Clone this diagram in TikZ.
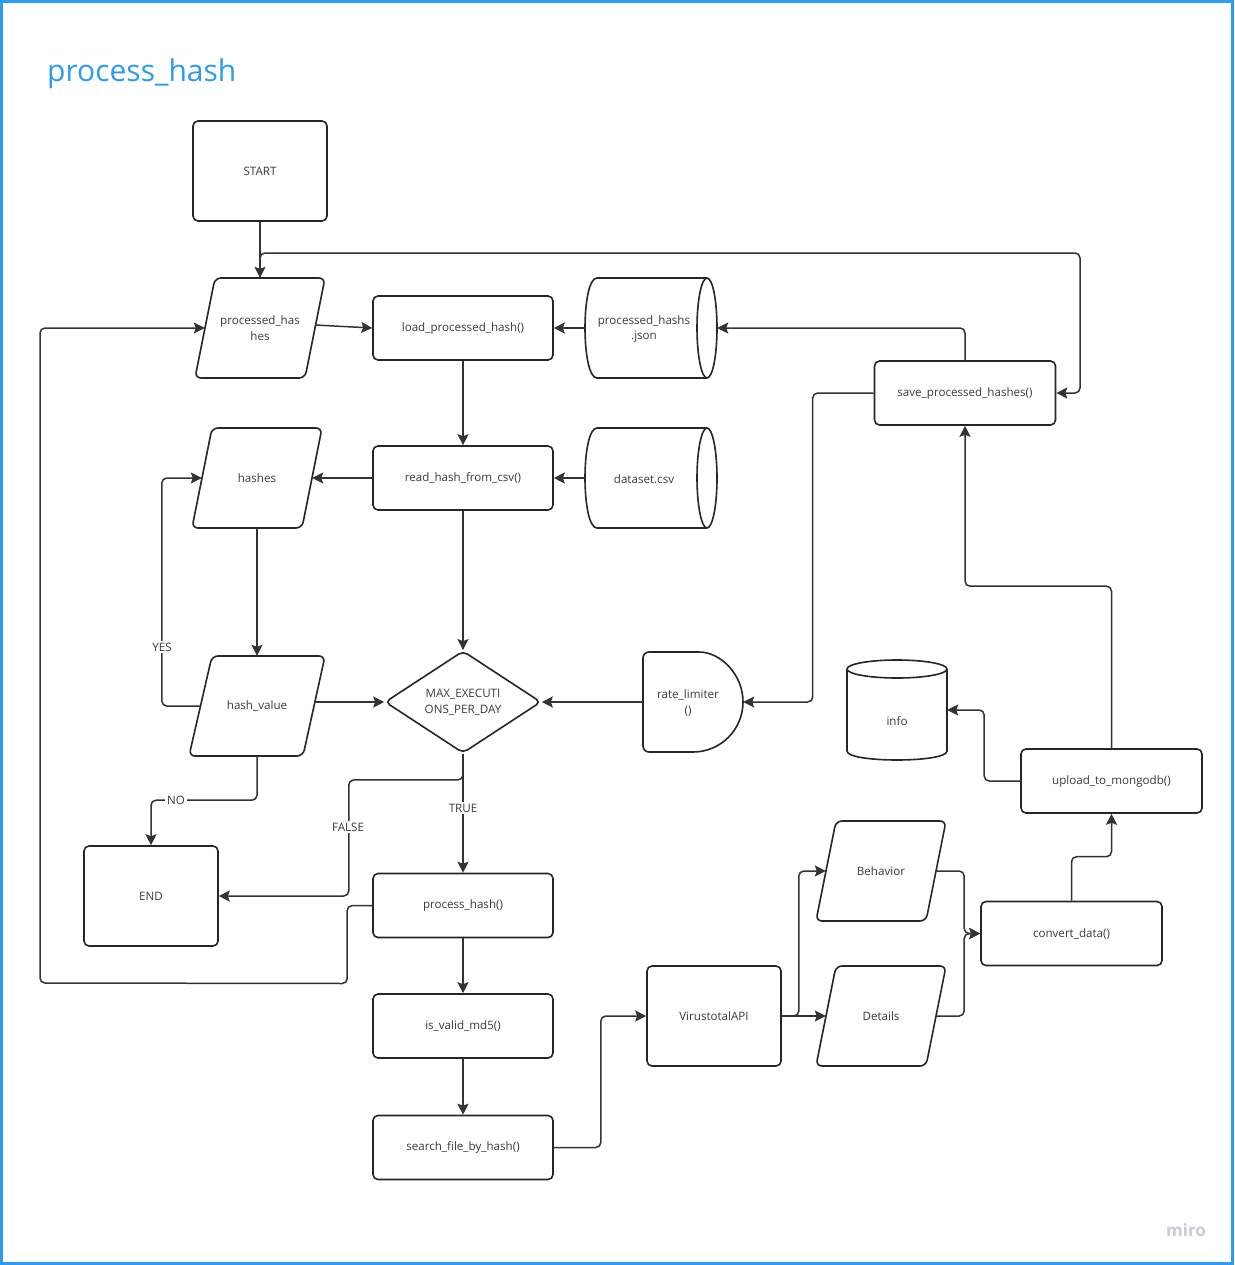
\documentclass[tikz,border=0pt]{standalone}
\usepackage{fontspec}
\setmainfont{Open Sans}
\usetikzlibrary{arrows.meta,calc,shapes.geometric}
\definecolor{miroblue}{HTML}{2D9BF0}
\definecolor{ink}{HTML}{262626}
\definecolor{wire}{HTML}{333333}
\definecolor{txtc}{HTML}{3A3A3A}
\definecolor{logo}{HTML}{C9CBD4}
\newcommand\plgram[4]{%
  \draw[shp, rounded corners=6pt] ($(#2,#3)+(-45,-50)$) -- ($(#2,#3)+(65,-50)$) -- ($(#2,#3)+(45,50)$) -- ($(#2,#3)+(-65,50)$) -- cycle;
  \node[ghost] (#1) at (#2,#3) {#4};}
\begin{document}
\begin{tikzpicture}[x=1pt,y=-1pt,
  base/.style={font=\fontsize{11.6}{15.5}\selectfont, text=txtc, align=center, inner sep=0pt},
  shp/.style={draw=ink, line width=1.6pt, fill=white, line join=round},
  rbox/.style={base, draw=ink, line width=1.6pt, fill=white, rounded corners=5pt, minimum width=180pt, minimum height=64pt},
  bigbox/.style={rbox, minimum width=134pt, minimum height=100pt},
  ghost/.style={base, minimum width=#1, minimum height=100pt},
  ghost/.default=110pt,
  conn/.style={draw=wire, line width=1.5pt, rounded corners=5pt, -{Stealth[length=11pt,width=11pt,inset=2pt]}},
  lbl/.style={base, fill=white, inner sep=2pt}]
\useasboundingbox (0,0) rectangle (1234,1265);
\fill[white] (0,0) rectangle (1234,1265);
\draw[miroblue, line width=3pt] (1.5,1.5) rectangle (1232.5,1263.5);
\node[anchor=base west, font=\fontsize{30}{36}\selectfont, text=miroblue, inner sep=0pt] (title) at (47,82) {process\_hash};
\node[anchor=base, font=\fontsize{17}{20}\selectfont\bfseries, text=logo, inner sep=0pt] (miro) at (1186,1236) {miro};

% nodes
\node[bigbox] (start) at (260,171) {START};
\plgram{ph}{260}{328}{processed\_has\\hes}
\node[rbox] (lph) at (463,328) {load\_processed\_hash()};
\draw[shp] (707,278) -- (597,278) .. controls (581,278) and (581,378) .. (597,378) -- (707,378);
\draw[shp] (707,328) ellipse [x radius=10, y radius=50];
\node[ghost=132pt] (json) at (651,328) {};
\node[base] (jsont) at (644,329) {processed\_hashs\\.json};
\node[rbox, minimum width=181pt] (save) at (965,393) {save\_processed\_hashes()};
\plgram{hs}{257}{478}{hashes}
\node[rbox] (rh) at (463,478) {read\_hash\_from\_csv()};
\draw[shp] (707,428) -- (597,428) .. controls (581,428) and (581,528) .. (597,528) -- (707,528);
\draw[shp] (707,478) ellipse [x radius=10, y radius=50];
\node[ghost=132pt] (csv) at (651,478) {};
\node[base] (csvt) at (644,479) {dataset.csv};
\node[base, diamond, draw=ink, line width=1.6pt, fill=white, rounded corners=5pt, minimum width=156pt, minimum height=99pt] (mx) at (463,702) {MAX\_EXECUTI\\ONS\_PER\_DAY};
\draw[shp, rounded corners=6pt] (212,656) -- (325,656) -- (303,756) -- (189,756) -- cycle;
\node[ghost=114pt] (hv) at (257,706) {hash\_value};
\draw[shp, rounded corners=6pt] (693,752) -- (643,752) -- (643,652) -- (693,652) [sharp corners] .. controls (720.6,652) and (743,674.4) .. (743,702) .. controls (743,729.6) and (720.6,752) .. (693,752) -- cycle;
\node[ghost=100pt] (rl) at (693,702) {};
\node[base] (rlt) at (688,703) {rate\_limiter\\()};
\draw[shp] (847,669) -- (847,751) .. controls (847,763) and (947,763) .. (947,751) -- (947,669);
\draw[shp] (897,669) ellipse [x radius=50, y radius=9];
\node[ghost=100pt] (info) at (897,710) {};
\node[base] (infot) at (897,721) {info};
\node[rbox, minimum width=181pt] (up) at (1111.5,781) {upload\_to\_mongodb()};
\node[bigbox] (fin) at (151,896) {END};
\node[rbox] (phf) at (463,905.5) {process\_hash()};
\plgram{bh}{881}{871}{Behavior}
\node[rbox, minimum width=181pt] (cd) at (1071.5,933.5) {convert\_data()};
\node[bigbox] (vt) at (714,1016) {VirustotalAPI};
\plgram{dt}{881}{1016}{Details}
\node[rbox] (md5) at (463,1026) {is\_valid\_md5()};
\node[rbox] (sf) at (463,1147.5) {search\_file\_by\_hash()};

% connectors
\coordinate (c1) at (1080,253);
\draw[conn] (start.south) -- (ph.north);
\draw[conn] (ph.north) |- (c1) |- (save.east);
\draw[conn] ($(ph.east)+(0,-3)$) -- (lph.west);
\draw[conn] (json.west) -- (lph.east);
\draw[conn] (save.north) |- (json.east);
\draw[conn] (lph.south) -- (rh.north);
\draw[conn] (csv.west) -- (rh.east);
\draw[conn] (rh.west) -- (hs.east);
\draw[conn] (hs.south) -- (hv.north);
\draw[conn] (rh.south) -- (mx.north);
\draw[conn] (hv.west) -- ++(-38,0) |- (hs.west);
\draw[conn] (hv.east |- mx.west) -- (mx.west);
\draw[conn] (rl.west) -- (mx.east);
\draw[conn] (save.west) -- ++(-61,0) |- (rl.east);
\draw[conn] (hv.south) -- ++(0,44) -| (fin.north);
\draw[conn] (mx.south) -- ++(0,26) -| ($(fin.east)+(130,0)$) -- (fin.east);
\draw[conn] (mx.south) -- (phf.north);
\draw[conn] (phf.west) -- ++(-25,0) -- ++(0,78) -- (40,983) |- (ph.west);
\draw[conn] (phf.south) -- (md5.north);
\draw[conn] (md5.south) -- (sf.north);
\draw[conn] (sf.east) -- ++(47,0) |- (vt.west);
\draw[conn] (vt.east) -- ++(17,0) |- (bh.west);
\draw[conn] (vt.east) -- (dt.west);
\draw[conn] (bh.east) -- ++(28,0) |- (cd.west);
\draw[conn] (dt.east) -- ++(28,0) |- (cd.west);
\draw[conn] (cd.north) -- ++(0,-44) -| (up.south);
\draw[conn] (up.west) -- ++(-36,0) |- (info.east);
\draw[conn] (up.north) -- ++(0,-162) -| (save.south);

% labels
\node[lbl] (yes) at (162,647) {YES};
\node[lbl] (no) at (176,800) {NO};
\node[lbl] (false) at (348,827) {FALSE};
\node[lbl] (true) at (463,808) {TRUE};
\end{tikzpicture}
\end{document}
